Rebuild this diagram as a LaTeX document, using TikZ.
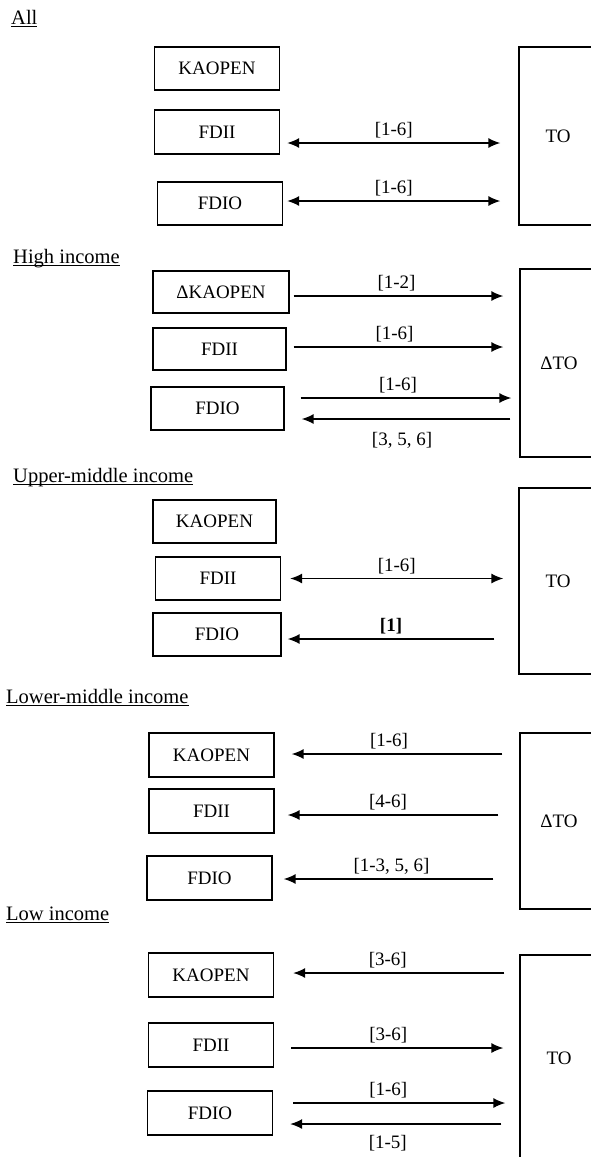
\documentclass[tikz,border=0pt]{standalone}
\usepackage{fontspec}
\setmainfont{Liberation Serif}
\usetikzlibrary{arrows.meta, calc}

% underlined group heading (Word style, rule just below the baseline)
\newcommand{\grp}[1]{\setbox0\hbox{#1}\rlap{\rule[-3pt]{\wd0}{1.2pt}}\box0}

\begin{document}
\begin{tikzpicture}[x=1pt, y=-1pt,
  var/.style={draw, line width=1.3pt, minimum width=125pt, minimum height=44pt,
              inner sep=0pt, font=\fontsize{19}{22}\selectfont},
  big/.style={draw, line width=1.3pt, minimum width=78pt, inner sep=0pt,
              font=\fontsize{19}{22}\selectfont},
  head/.style={anchor=base west, inner sep=0pt, font=\fontsize{20.5}{24}\selectfont},
  link/.style={-{Latex[length=12pt,width=10pt]}, line width=1.4pt},
  twoway/.style={{Latex[length=12pt,width=10pt]}-{Latex[length=12pt,width=10pt]}, line width=1.4pt},
  lab/.style={inner sep=0pt, font=\fontsize{19}{22}\selectfont}
]
  \useasboundingbox (0,0) rectangle (591,1157);
  \clip (0,0) rectangle (591,1157);

  % All
  \node[head] (hAll) at (11,24) {\grp{All}};
  \node[var, minimum height=43pt] (K1) at (217,68.5) {KAOPEN};
  \node[var] (I1) at (217,132) {FDII};
  \node[var, minimum height=43pt] (O1) at (220,203.5) {FDIO};
  \node[big, minimum height=178pt] (T1) at (558,136) {TO};

  \draw[twoway] ($(I1.east)+(7,11)$) -- ($(I1.east -| T1.west)+(-18,11)$)
    node[lab, midway, above=4pt] {[1-6]};
  \draw[twoway] ($(O1.east)+(4,-2.5)$) -- ($(O1.east -| T1.west)+(-18,-2.5)$)
    node[lab, midway, above=4pt] {[1-6]};

  % High income
  \node[head] (hHigh) at (13,263) {\grp{High income}};
  \node[var, minimum width=136pt, minimum height=42pt] (K2) at (221,292) {ΔKAOPEN};
  \node[var, minimum width=133pt, minimum height=42pt] (I2) at (219.5,349) {FDII};
  \node[var, minimum width=133pt, minimum height=43pt] (O2) at (217.5,408.5) {FDIO};
  \node[big, minimum height=188pt] (T2) at (559,363) {ΔTO};

  \draw[link] ($(K2.east)+(4,4)$) -- ($(K2.east -| T2.west)+(-16,4)$)
    node[lab, midway, above=4pt, xshift=-2pt] {[1-2]};
  \draw[link] ($(I2.east)+(7,-2)$) -- ($(I2.east -| T2.west)+(-16,-2)$)
    node[lab, midway, above=4pt, xshift=-4pt] {[1-6]};
  \draw[link] ($(O2.east)+(16,-10.5)$) -- ($(O2.east -| T2.west)+(-8,-10.5)$)
    node[lab, midway, above=4pt, xshift=-8pt] {[1-6]};
  \draw[link] ($(O2.east -| T2.west)+(-9,10.5)$) -- ($(O2.east)+(17,10.5)$)
    node[lab, midway, below=13pt, xshift=-4pt] {[3, 5, 6]};

  % Upper-middle income
  \node[head] (hUpper) at (13,482) {\grp{Upper-middle income}};
  \node[var, minimum width=123pt, minimum height=43pt] (K3) at (214.5,521.5) {KAOPEN};
  \node[var, minimum height=43pt] (I3) at (218,578.5) {FDII};
  \node[var, minimum width=128pt, minimum height=43pt] (O3) at (217,634.5) {FDIO};
  \node[big, minimum height=186pt] (T3) at (558,581) {TO};

  \draw[twoway] ($(I3.east)+(9,0)$) -- ($(I3.east -| T3.west)+(-15,0)$)
    node[lab, midway, above=4pt] {[1-6]};
  \draw[link] ($(O3.east -| T3.west)+(-24,4.5)$) -- ($(O3.east)+(6,4.5)$)
    node[lab, midway, above=4pt, font=\fontsize{19}{22}\selectfont\bfseries] {[1]};

  % Lower-middle income
  \node[head] (hLower) at (6,703) {\grp{Lower-middle income}};
  \node[var] (K4) at (211.5,755) {KAOPEN};
  \node[var] (I4) at (211.5,811) {FDII};
  \node[var] (O4) at (209.5,878) {FDIO};
  \node[big, minimum height=176pt] (T4) at (559,821) {ΔTO};

  \draw[link] ($(K4.east -| T4.west)+(-17,-1)$) -- ($(K4.east)+(17,-1)$)
    node[lab, midway, above=4pt, xshift=-8pt] {[1-6]};
  \draw[link] ($(I4.east -| T4.west)+(-21,4)$) -- ($(I4.east)+(13,4)$)
    node[lab, midway, above=4pt, xshift=-5pt] {[4-6]};
  \draw[link] ($(O4.east -| T4.west)+(-26,1)$) -- ($(O4.east)+(11,1)$)
    node[lab, midway, above=4pt, xshift=3pt] {[1-3, 5, 6]};

  % Low income
  \node[head] (hLow) at (6,920) {\grp{Low income}};
  \node[var] (K5) at (211,975) {KAOPEN};
  \node[var] (I5) at (211,1045) {FDII};
  \node[var] (O5) at (210,1113) {FDIO};
  \node[big, minimum height=206pt] (T5) at (559,1058) {TO};

  \draw[link] ($(K5.east -| T5.west)+(-15,-2)$) -- ($(K5.east)+(19,-2)$)
    node[lab, midway, above=4pt, xshift=-11pt] {[3-6]};
  \draw[link] ($(I5.east)+(17,3)$) -- ($(I5.east -| T5.west)+(-16,3)$)
    node[lab, midway, above=4pt, xshift=-9pt] {[3-6]};
  \draw[link] ($(O5.east)+(20,-10)$) -- ($(O5.east -| T5.west)+(-14,-10)$)
    node[lab, midway, above=4pt, xshift=-11pt] {[1-6]};
  \draw[link] ($(O5.east -| T5.west)+(-18,11)$) -- ($(O5.east)+(17,11)$)
    node[lab, midway, below=11pt, xshift=-8pt] {[1-5]};
\end{tikzpicture}
\end{document}
